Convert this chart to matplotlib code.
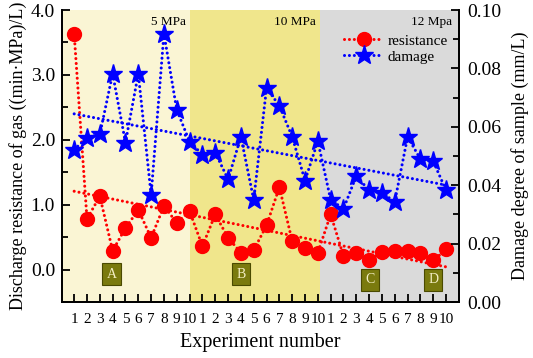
import matplotlib
matplotlib.use("Agg")
import matplotlib.pyplot as plt
import numpy as np
from matplotlib.ticker import MultipleLocator

plt.rcParams["font.family"] = ["Liberation Serif", "DejaVu Serif"]

experiment = np.arange(1, 31)
tick_labels = [str(i) for i in range(1, 11)] * 3

resistance = [3.63, 0.78, 1.13, 0.29, 0.64, 0.92, 0.49, 0.98, 0.72, 0.90,
              0.36, 0.85, 0.49, 0.26, 0.30, 0.68, 1.27, 0.44, 0.34, 0.26,
              0.85, 0.21, 0.25, 0.14, 0.27, 0.29, 0.29, 0.25, 0.14, 0.31]
damage = [0.0522, 0.0563, 0.0574, 0.0782, 0.0546, 0.0782, 0.0367, 0.0919, 0.0658, 0.0549,
          0.0505, 0.0512, 0.0420, 0.0566, 0.0350, 0.0733, 0.0672, 0.0566, 0.0416, 0.0551,
          0.0350, 0.0319, 0.0432, 0.0382, 0.0373, 0.0344, 0.0566, 0.0489, 0.0482, 0.0382]

region_edges = [0.0, 10.05, 20.2, 31.0]
region_colors = ["#FAF5D4", "#F0E68C", "#DADADA"]
region_names = ["5 MPa", "10 MPa", "12 Mpa"]
region_label_x = [9.7, 19.85, 30.5]

box_letters = ["A", "B", "C", "D"]
box_x = [3.9, 14.0, 24.05, 29.0]
box_y = [-0.07, -0.07, -0.16, -0.16]

fig = plt.figure(figsize=(5.33, 3.58), dpi=100)
ax = fig.add_axes([0.1163, 0.1564, 0.7447, 0.8156])
ax2 = ax.twinx()

for lo, hi, col in zip(region_edges[:-1], region_edges[1:], region_colors):
    ax.axvspan(lo, hi, color=col, lw=0, zorder=0)
for x, name in zip(region_label_x, region_names):
    ax.text(x, 3.81, name, ha="right", va="center", fontsize=9.5)
for x, y, letter in zip(box_x, box_y, box_letters):
    ax.text(x, y, letter, ha="center", va="center", fontsize=10, color="#F4EFC4",
            bbox=dict(boxstyle="square,pad=0.3", fc="#7A7A0E", ec="#4A4A00", lw=0.8))

dot = (0, (0.01, 1.6))
ax.plot(experiment, resistance, color="red", ls=dot, lw=2.2, marker="o", ms=10,
        dash_capstyle="round", label="resistance", zorder=3)
ax2.plot(experiment, damage, color="blue", ls=dot, lw=2.2, marker="*", ms=14,
         dash_capstyle="round", label="damage", zorder=3)

# linear trend lines
k1, b1 = np.polyfit(experiment, resistance, 1)
ax.plot(experiment[[0, -1]], k1 * experiment[[0, -1]] + b1, color="red", ls=dot, lw=2.2,
        dash_capstyle="round", zorder=2)
k2, b2 = np.polyfit(experiment, damage, 1)
ax2.plot(experiment[[0, -1]], k2 * experiment[[0, -1]] + b2, color="blue", ls=dot, lw=2.2,
         dash_capstyle="round", zorder=2)

ax.set_xlim(0.05, 31.0)
ax.set_ylim(-0.5, 4.0)
ax2.set_ylim(0.0, 0.10)
ax.set_xticks(experiment, tick_labels)
ax.yaxis.set_major_locator(MultipleLocator(1.0))
ax.yaxis.set_minor_locator(MultipleLocator(0.5))
ax.yaxis.set_major_formatter(lambda v, p: f"{v:.1f}")
ax2.yaxis.set_major_locator(MultipleLocator(0.02))
ax2.yaxis.set_minor_locator(MultipleLocator(0.01))
ax2.yaxis.set_major_formatter(lambda v, p: f"{v:.2f}")

for a in (ax, ax2):
    a.spines["top"].set_visible(False)
    for s in a.spines.values():
        s.set_linewidth(1.3)
    a.tick_params(which="both", direction="in", width=1.3)
    a.tick_params(which="major", length=6)
    a.tick_params(which="minor", length=4)
ax.tick_params(axis="y", labelsize=14, pad=5)
ax.tick_params(axis="x", labelsize=11, pad=8)
ax2.tick_params(axis="y", labelsize=14, pad=6)

ax.set_xlabel("Experiment number", fontsize=14.5, labelpad=5)
ax.set_ylabel("Discharge resistance of gas ((min·MPa)/L)", fontsize=13, labelpad=3)
ax2.set_ylabel("Damage degree of sample (mm/L)", fontsize=13, labelpad=7)

h1, l1 = ax.get_legend_handles_labels()
h2, l2 = ax2.get_legend_handles_labels()
ax2.legend(h1 + h2, l1 + l2, loc="upper right", bbox_to_anchor=(1.0, 0.955), frameon=False,
           fontsize=11, handlelength=2.6, handletextpad=0.3, labelspacing=0.15,
           borderaxespad=0.3)

fig.savefig("out.png", dpi=100)
